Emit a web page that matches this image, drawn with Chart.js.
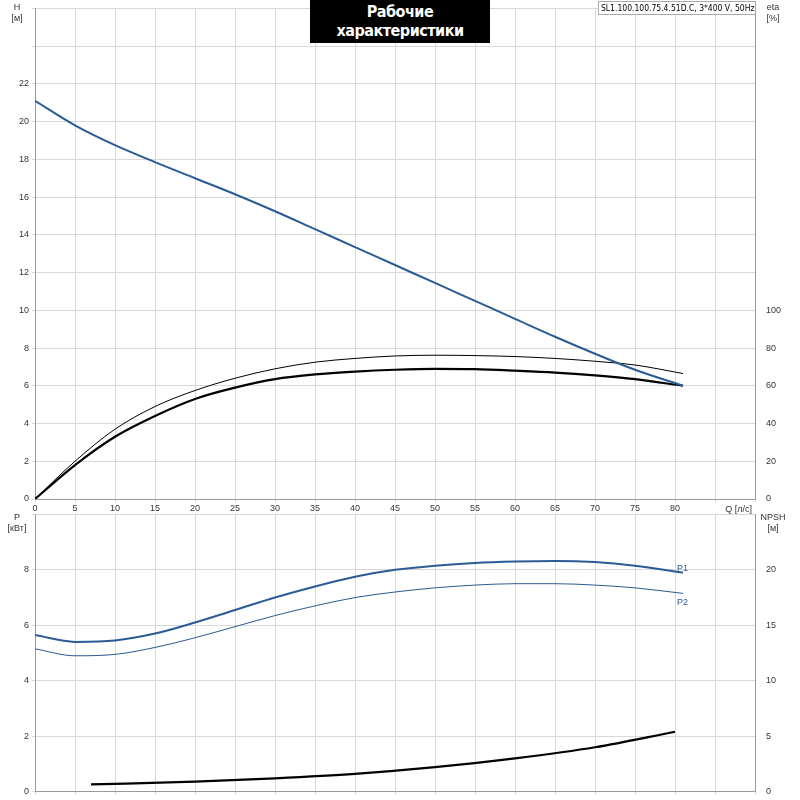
<!DOCTYPE html>
<html><head><meta charset="utf-8">
<script src="https://cdn.jsdelivr.net/npm/chart.js@4"></script>
<style>
body{margin:0;background:#fff;font-family:"Liberation Sans",Arial,sans-serif}
#wrap{position:relative;width:800px;height:800px}
#c1{position:absolute;left:0;top:0}
#c2{position:absolute;left:0;top:506px}
#title{position:absolute;left:310px;top:0;width:180px;text-align:center;background:#000;color:#fff;font:bold 16px "DejaVu Sans Condensed","Liberation Sans",sans-serif;padding:2px 0 3px;letter-spacing:-0.5px}
#legend{position:absolute;left:598px;top:1px;width:152px;border:1px solid #aaa;font:8.5px "DejaVu Sans Condensed","Liberation Sans",sans-serif;padding:1px 2px;background:#fff;white-space:nowrap;overflow:hidden}
</style></head><body>
<div id="wrap">
<canvas id="c1" width="800" height="520"></canvas>
<canvas id="c2" width="800" height="294"></canvas>
<div id="title">Рабочие характеристики</div>
<div id="legend">SL1.100.100.75.4.51D.C, 3*400 V, 50Hz</div>
</div>
<script>
// Данные
const qPuntos = [0,5,10,15,20,25,30,35,40,45,50,55,60,65,70,75,81];
const altura = [21.1,19.8,18.75,17.85,17.0,16.15,15.25,14.3,13.35,12.4,11.45,10.5,9.55,8.6,7.7,6.85,6.0];
const etaGruesa = [0,18,33,44,53,59,63.5,66,67.5,68.5,69,68.8,68,67,65.5,63.5,60];
const etaFina = [0,20,37,49,57.5,64,69,72.5,74.5,75.8,76.2,76,75.5,74.5,73,71,66.5];
const potenciaP1 = [5.65,5.4,5.45,5.7,6.1,6.55,7.0,7.4,7.75,8.0,8.15,8.25,8.3,8.32,8.28,8.15,7.9];
const potenciaP2 = [5.15,4.9,4.95,5.2,5.55,5.95,6.35,6.7,7.0,7.2,7.35,7.45,7.5,7.5,7.45,7.35,7.15];
const qNpsh = [7,20,30,40,50,60,70,80];
const npsh = [0.65,0.9,1.2,1.6,2.2,3.0,4.0,5.4];

const AZUL = '#2a5b94';
const pares = (xs, ys) => xs.map((x, i) => ({x, y: ys[i]}));
const rejilla = {color:'#d8d8d8', lineWidth:1, drawTicks:true, tickLength:3};
const fuente = {size:9, family:'"Liberation Sans",Arial'};

function serie(data, color, ancho, eje) {
    return {data, borderColor:color, borderWidth:ancho, pointRadius:0, cubicInterpolationMode:'monotone', fill:false, yAxisID:eje};
}

// Textos de los ejes y etiquetas de curvas
const textos = (items) => ({
    id:'textos',
    afterDraw(chart) {
        const ctx = chart.ctx;
        ctx.save();
        ctx.font = '9px "Liberation Sans",Arial';
        items(chart).forEach(t => {
            ctx.fillStyle = t.c || '#333';
            ctx.textAlign = t.a || 'center';
            ctx.fillText(t.s, t.x, t.y);
        });
        ctx.restore();
    }
});

new Chart(document.getElementById('c1'), {
    type:'line',
    data:{datasets:[
        serie(pares(qPuntos, altura), AZUL, 2, 'y'),
        serie(pares(qPuntos, etaFina), '#000', 1, 'eta'),
        serie(pares(qPuntos, etaGruesa), '#000', 2.2, 'eta')
    ]},
    options:{
        responsive:false, animation:false,
        plugins:{legend:{display:false}, tooltip:{enabled:false}},
        scales:{
            x:{type:'linear', min:0, max:90, grid:rejilla, border:{color:'#999'},
               afterFit(s){ s.height = 21; },
               ticks:{stepSize:5, font:fuente, color:'#333', padding:1, maxRotation:0,
                      callback:v => v > 80 ? '' : v}},
            y:{min:0, max:26, grid:rejilla, border:{color:'#999'},
               afterFit(s){ s.width = 35; },
               ticks:{stepSize:2, font:fuente, color:'#333', callback:v => v > 22 ? '' : v}},
            eta:{position:'right', min:0, max:260, grid:{display:false}, border:{color:'#999'},
               afterFit(s){ s.width = 45; },
               ticks:{stepSize:20, font:fuente, color:'#333', callback:v => v > 100 ? '' : v}}
        }
    },
    plugins:[textos(ch => [
        {s:'H', x:17, y:10}, {s:'[м]', x:17, y:21},
        {s:'eta', x:773, y:10}, {s:'[%]', x:773, y:21},
        {s:'Q [л/с]', x:752, y:ch.chartArea.bottom + 13, a:'right'}
    ])]
});

new Chart(document.getElementById('c2'), {
    type:'line',
    data:{datasets:[
        serie(pares(qPuntos, potenciaP1), AZUL, 2, 'y'),
        serie(pares(qPuntos, potenciaP2), AZUL, 1, 'y'),
        serie(pares(qNpsh, npsh), '#000', 2.2, 'npsh')
    ]},
    options:{
        responsive:false, animation:false,
        layout:{padding:{top:7,bottom:0}},
        plugins:{legend:{display:false}, tooltip:{enabled:false}},
        scales:{
            x:{type:'linear', min:0, max:90, grid:rejilla, border:{color:'#999'},
               afterFit(s){ s.height = 1; }, ticks:{display:false, stepSize:5}},
            y:{min:0, max:10, grid:rejilla, border:{color:'#999'},
               afterFit(s){ s.width = 35; },
               ticks:{stepSize:2, font:fuente, color:'#333', callback:v => v > 8 ? '' : v}},
            npsh:{position:'right', min:0, max:25, grid:{display:false}, border:{color:'#999'},
               afterFit(s){ s.width = 45; },
               ticks:{stepSize:5, font:fuente, color:'#333', callback:v => v > 20 ? '' : v}}
        }
    },
    plugins:[textos(ch => {
        const x = ch.scales.x, y = ch.scales.y;
        const n = qPuntos.length - 1;
        return [
            {s:'P', x:17, y:14}, {s:'[кВт]', x:17, y:25},
            {s:'NPSH', x:773, y:14}, {s:'[м]', x:773, y:25},
            {s:'P1', x:x.getPixelForValue(qPuntos[n]) - 6, y:y.getPixelForValue(potenciaP1[n]) - 2, c:AZUL, a:'left'},
            {s:'P2', x:x.getPixelForValue(qPuntos[n]) - 6, y:y.getPixelForValue(potenciaP2[n]) + 12, c:AZUL, a:'left'}
        ];
    })]
});
</script>
</body></html>
